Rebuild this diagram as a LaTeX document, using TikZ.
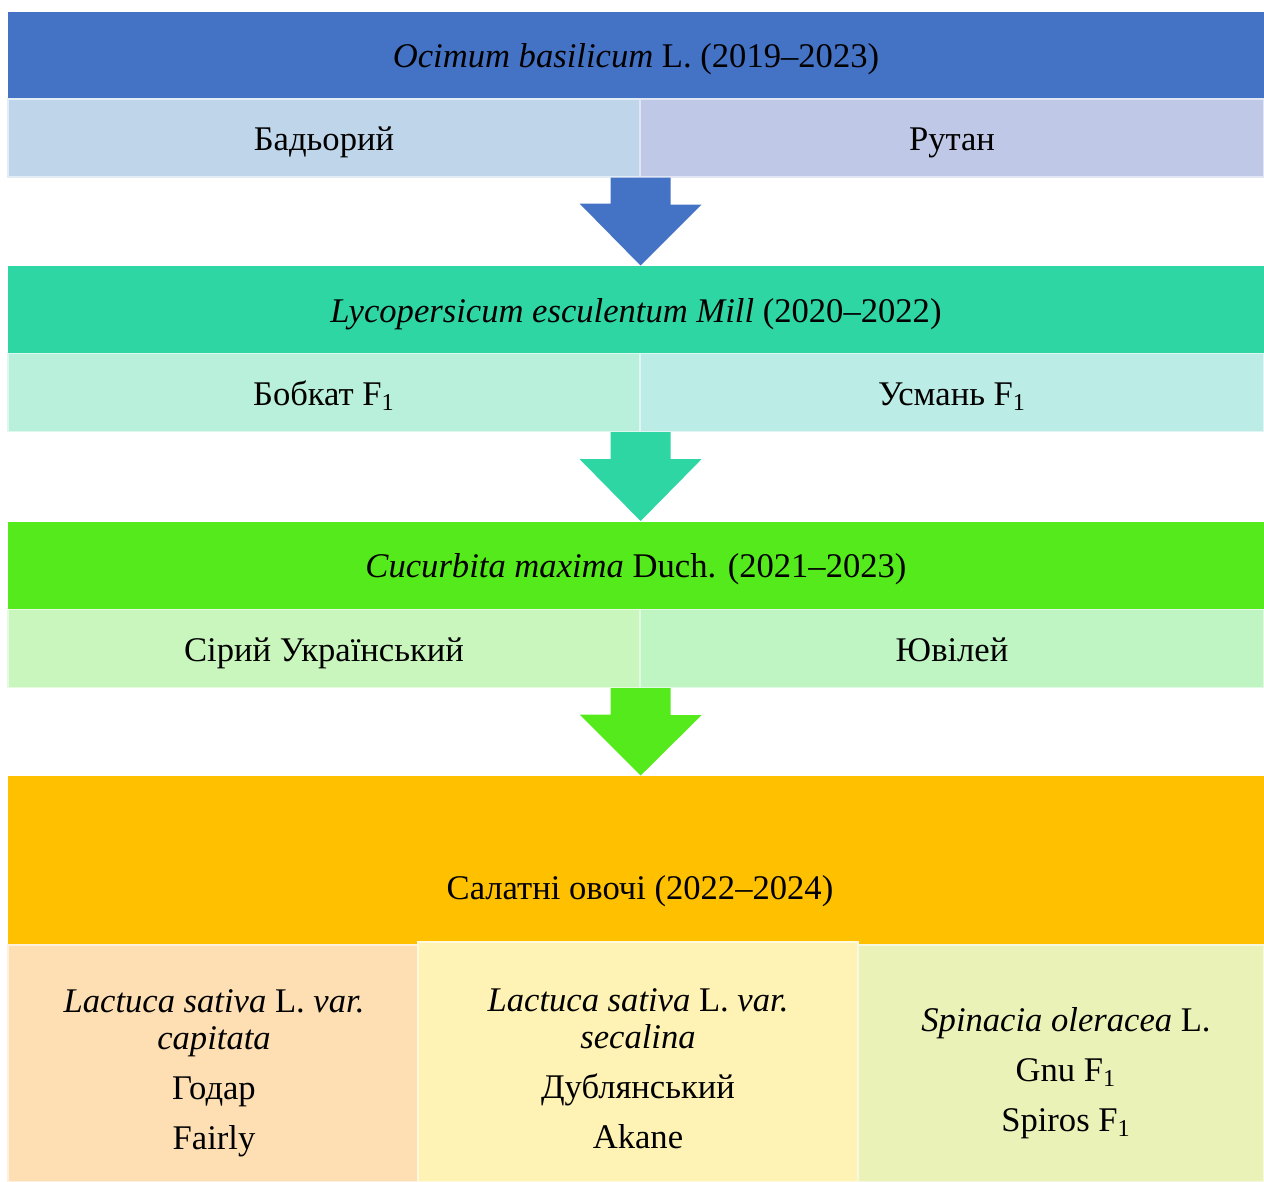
\documentclass[tikz,border=0pt]{standalone}
\usepackage{fontspec}
\setmainfont{Liberation Serif}
\usetikzlibrary{calc,positioning}

\definecolor{basilblue}{HTML}{4472C4}
\definecolor{basilleft}{HTML}{BFD6EA}
\definecolor{basilright}{HTML}{BFC8E6}
\definecolor{tomteal}{HTML}{2ED6A3}
\definecolor{tomleft}{HTML}{B9F0DB}
\definecolor{tomright}{HTML}{BCECE6}
\definecolor{pumpgreen}{HTML}{55EA1B}
\definecolor{pumpleft}{HTML}{C8F6BD}
\definecolor{pumpright}{HTML}{BFF4C3}
\definecolor{saladorange}{HTML}{FFC000}
\definecolor{saladpeach}{HTML}{FEDFB3}
\definecolor{saladyellow}{HTML}{FEF2B4}
\definecolor{saladlime}{HTML}{EAF2B8}

\begin{document}
\begin{tikzpicture}[
        x=0.5pt, y=-0.5pt,
        font=\fontsize{17.3}{18.5}\selectfont,
        % Block styles
        band/.style={
            rectangle,
            fill=#1,
            inner sep=0pt,
            text height=14pt,
            text depth=1.5pt,
            minimum width=628pt,
            minimum height=43.5pt,
            align=center
        },
        cell/.style={
            rectangle,
            fill=#1,
            draw=white!55!#1,
            line width=0.6pt,
            inner sep=0pt,
            text height=14pt,
            text depth=1.5pt,
            minimum height=39pt,
            align=center
        },
        crop/.style={
            rectangle,
            fill=#1,
            draw=white!55!#1,
            line width=0.6pt,
            inner sep=0pt,
            minimum height=118.5pt
        },
        croptext/.style={align=center, inner sep=0pt}
    ]

    \useasboundingbox (0,0) rectangle (1264,1182);

    % Ocimum
    \node[band=basilblue] (basil) at (636,55.5) {\textit{Ocimum basilicum} L. (2019–2023)};
    \node[cell=basilleft, minimum width=316pt] (badoriy) at (324,138) {Бадьорий};
    \node[cell=basilright, minimum width=312pt] (rutan) at (952,138) {Рутан};

    % Lycopersicum
    \node[band=tomteal] (tomato) at (636,309.5) {\textit{Lycopersicum esculentum Mill} (2020–2022)};
    \node[cell=tomleft, minimum width=316pt] (bobkat) at (324,392.5) {Бобкат F\textsubscript{1}};
    \node[cell=tomright, minimum width=312pt] (usman) at (952,392.5) {Усмань F\textsubscript{1}};

    % Cucurbita
    \node[band=pumpgreen] (pumpkin) at (636,565) {\textit{Cucurbita maxima} Duch. (2021–2023)};
    \node[cell=pumpleft, minimum width=316pt] (siriy) at (324,648.5) {Сірий Український};
    \node[cell=pumpright, minimum width=312pt] (yuviley) at (952,648.5) {Ювілей};

    % Salad vegetables
    \node[band=saladorange, minimum height=84.5pt] (salad) at (636,860.5) {};
    \node[band=saladorange, minimum width=0pt, minimum height=0pt] (saladlbl) at (640,887) {Салатні овочі (2022–2024)};
    \node[crop=saladpeach, minimum width=205pt] (capitata) at (213,1063.5) {};
    \node[crop=saladyellow, minimum width=220pt, minimum height=120pt] (secalina) at (638,1062) {};
    \node[crop=saladlime, minimum width=203pt] (spinach) at (1061,1063.5) {};
    \node[croptext] (capitatatxt) at (214,1073)
        {\textit{Lactuca sativa} L. \textit{var.}\\\textit{capitata}\\[6.5pt]Годар\\[6.5pt]Fairly};
    \node[croptext] (secalinatxt) at (638,1069)
        {\textit{Lactuca sativa} L. \textit{var.}\\\textit{secalina}\\[6.5pt]Дублянський\\[6.5pt]Akane};
    \node[croptext] (spinachtxt) at (1066,1073)
        {\textit{Spinacia oleracea} L.\\[6.5pt]Gnu F\textsubscript{1}\\[6.5pt]Spiros F\textsubscript{1}};

    % Block arrows
    \fill[basilblue] ($(badoriy.south east)+(-30,0)$) -- ++(60,0) -- ++(0,27) -- ++(31,0)
        -- (badoriy.south east |- tomato.north) -- ++(-61,-62) -- ++(31,0) -- cycle;
    \fill[tomteal] ($(bobkat.south east)+(-30,0)$) -- ++(60,0) -- ++(0,27) -- ++(31,0)
        -- (bobkat.south east |- pumpkin.north) -- ++(-61,-62) -- ++(31,0) -- cycle;
    \fill[pumpgreen] ($(siriy.south east)+(-30,0)$) -- ++(60,0) -- ++(0,27) -- ++(31,0)
        -- (siriy.south east |- salad.north) -- ++(-61,-61) -- ++(31,0) -- cycle;

\end{tikzpicture}
\end{document}
